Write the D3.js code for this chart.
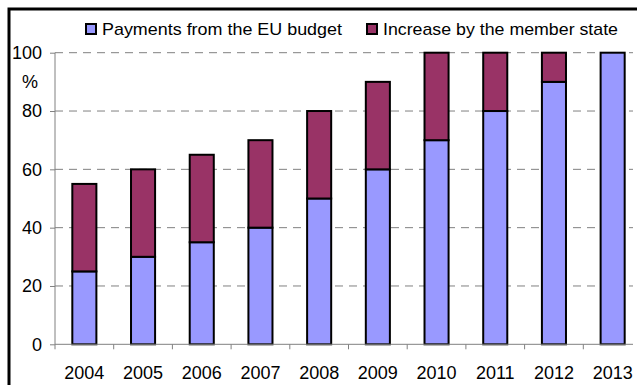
<!DOCTYPE html>
<html><head><meta charset="utf-8">
<script src="https://cdn.jsdelivr.net/npm/d3@7"></script>
<style>html,body{margin:0;padding:0;background:#fff;}svg{display:block;}</style>
</head><body>
<svg id="c" width="637" height="385"></svg>
<script>
const years = ["2004","2005","2006","2007","2008","2009","2010","2011","2012","2013"];
const euPayments = [25,30,35,40,50,60,70,80,90,100];
const memberIncrease = [30,30,30,30,30,30,30,20,10,0];
const seriesNames = ["Payments from the EU budget","Increase by the member state"];
const seriesColors = ["#9999FF","#993366"];
const yTicks = [0,20,40,60,80,100];

const svg = d3.select("#c");
const font = "Liberation Sans, Arial, sans-serif";

// outer frame
svg.append("rect").attr("x",9).attr("y",9).attr("width",640).attr("height",390)
  .attr("fill","none").attr("stroke","#000").attr("stroke-width",3);

const x0 = 55, x1 = 642, plotRight = 633;
const x = d3.scaleBand().domain(years).range([x0,x1]).paddingInner(0.59).paddingOuter(0.295);
const y = d3.scaleLinear().domain([0,100]).range([344.3,52.7]);

// gridlines
svg.append("g").selectAll("line").data(yTicks.filter(d=>d>0)).join("line")
  .attr("x1",x0).attr("x2",plotRight).attr("y1",d=>y(d)).attr("y2",d=>y(d))
  .attr("stroke","#808080").attr("stroke-width",1).attr("stroke-dasharray","8,6");

// stacked data
const rows = years.map((yr,i)=>({year:yr, eu:euPayments[i], inc:memberIncrease[i]}));
const stack = d3.stack().keys(["eu","inc"])(rows);

const gb = svg.append("g");
stack.forEach((layer,li)=>{
  gb.append("g").selectAll("rect").data(layer.filter(d=>d[1]>d[0])).join("rect")
    .attr("x",d=>x(d.data.year)).attr("width",x.bandwidth())
    .attr("y",d=>y(d[1])).attr("height",d=>y(d[0])-y(d[1]))
    .attr("fill",seriesColors[li]).attr("stroke","#000").attr("stroke-width",2);
});

// y axis
const ya = svg.append("g").attr("transform",`translate(${x0},0)`)
  .call(d3.axisLeft(y).tickValues(yTicks).tickSize(5).tickPadding(8));
ya.select(".domain").attr("stroke","#808080").attr("d",`M0,${y(0)}V${y(100)}`);
ya.selectAll(".tick line").attr("stroke","#808080");
ya.selectAll("text").attr("font-family",font).attr("font-size",18).attr("fill","#000");

// x axis
const xa = svg.append("g").attr("transform",`translate(0,${y(0)})`)
  .call(d3.axisBottom(x).tickSize(0).tickPadding(22));
xa.select(".domain").remove();
xa.selectAll("text").attr("font-family",font).attr("font-size",18).attr("fill","#000");
svg.append("line").attr("x1",x0).attr("x2",plotRight).attr("y1",y(0)).attr("y2",y(0)).attr("stroke","#808080");
const bw = x.step();
svg.append("g").selectAll("line").data(d3.range(years.length)).join("line")
  .attr("x1",i=>x0+i*bw).attr("x2",i=>x0+i*bw).attr("y1",y(0)).attr("y2",y(0)+5)
  .attr("stroke","#808080");

// % label
svg.append("text").attr("x",30).attr("y",88).attr("text-anchor","middle")
  .attr("font-family",font).attr("font-size",18).text("%");

// legend
const legX = [86, 367], legTextW = [240, 235];
seriesNames.forEach((n,i)=>{
  svg.append("rect").attr("x",legX[i]).attr("y",24).attr("width",10).attr("height",10)
    .attr("fill",seriesColors[i]).attr("stroke","#000").attr("stroke-width",2);
  svg.append("text").attr("x",legX[i]+16).attr("y",35).attr("font-family",font)
    .attr("font-size",17).attr("textLength",legTextW[i]).attr("lengthAdjust","spacingAndGlyphs").text(n);
});
</script>
</body></html>
